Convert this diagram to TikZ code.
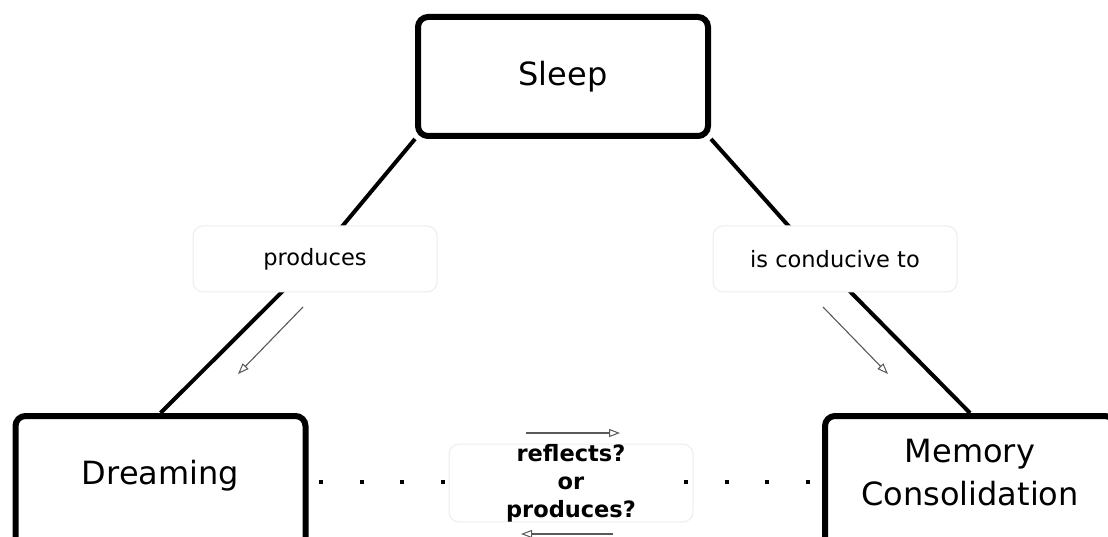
\documentclass[tikz,border=0pt]{standalone}
\usepackage{fontspec}
\setmainfont{DejaVu Sans}
\usetikzlibrary{arrows.meta,backgrounds}
\tikzset{
  concept/.style={draw=black, line width=6pt, rounded corners=10pt, fill=white,
    minimum width=290pt, minimum height=119pt, inner sep=0pt, align=center,
    font=\fontsize{32}{43}\selectfont},
  tallconcept/.style={concept, minimum height=135pt},
  linkbox/.style={draw=black!7, line width=1pt, rounded corners=10pt, fill=white,
    minimum width=244pt, minimum height=66pt, inner sep=0pt, align=center,
    font=\fontsize{22.5}{28}\selectfont},
  conn/.style={line width=4pt, black},
  hint/.style={line width=1.1pt, black!65, -{Triangle[open, length=11pt, width=8pt, line width=1pt]}},
  dots/.style={line width=4pt, black, dash pattern=on 4pt off 36.67pt}
}
\begin{document}
\begin{tikzpicture}[x=1pt, y=-1pt]
\useasboundingbox (0,0) rectangle (1108,537);
% concept nodes
\node[concept] (sleep) at (563,76.5) {Sleep};
\node[tallconcept] (dream) at (160.5,483.5) {\raisebox{8pt}[\height][\depth]{Dreaming}};
\node[tallconcept] (mem) at (970,483.5) {\raisebox{8pt}[\height][\depth]{\begin{tabular}{@{}c@{}}Memory\\Consolidation\end{tabular}}};
% link labels
\node[linkbox] (lab1) at (315,259) {produces};
\node[linkbox] (lab2) at (835,259) {is conducive to};
\node[linkbox, minimum height=70pt, font=\fontsize{22.5}{28}\selectfont\bfseries] (lab3) at (571,483) {reflects?\\or\\produces?};
\coordinate (j2) at (818,259);
\coordinate (dl) at (319,482);
\coordinate (dr) at (811,482);
\coordinate (bl) at (447,482);
\coordinate (br) at (684,482);
% dotted connector (dreaming - label - memory)
\draw[dots] (dl) -- (bl);
\draw[dots] (br) -- (dr);
% hint arrows
\coordinate (a1s) at (303,307); \coordinate (a1e) at (238,374);
\coordinate (a2s) at (823,307); \coordinate (a2e) at (888,374);
\coordinate (a3s) at (526,433); \coordinate (a3e) at (620,433);
\coordinate (a4s) at (613,534); \coordinate (a4e) at (521,534);
\draw[hint] (a1s) -- (a1e);
\draw[hint] (a2s) -- (a2e);
\draw[hint] (a3s) -- (a3e);
\draw[hint] (a4s) -- (a4e);
\begin{scope}[on background layer]
  \fill[white] (0,0) rectangle (1108,537);
  \draw[conn] (sleep.south west) -- (lab1.center) -- (dream.north);
  \draw[conn] (sleep.south east) -- (j2) -- (mem.north);
\end{scope}
\end{tikzpicture}
\end{document}
